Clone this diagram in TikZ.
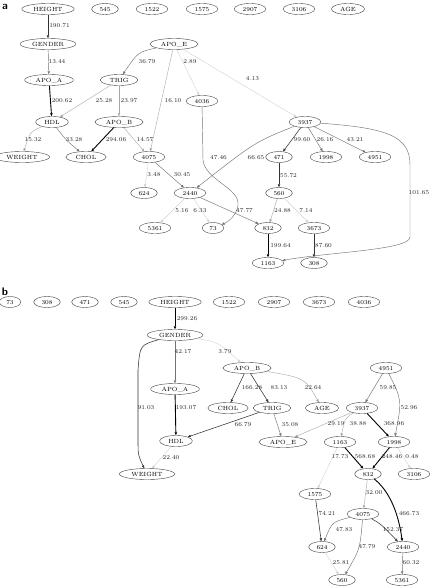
\documentclass[tikz,border=0pt]{standalone}
\usetikzlibrary{shapes.geometric,arrows.meta}
\begin{document}
\begin{tikzpicture}[x=1pt,y=-1pt,
  every node/.style={font=\fontsize{6}{7}\selectfont},
  nd/.style={ellipse,draw=black!75,line width=0.4pt,inner xsep=3.9pt,inner ysep=1.9pt,text height=4pt,text depth=0pt},
  lb/.style={inner sep=0pt,text=black!85},
  arr/.style={-{Triangle[length=3pt,width=2.4pt]}},
  e0/.style={arr,draw=black!18,line width=0.4pt},
  e1/.style={arr,draw=black!35,line width=0.4pt},
  e2/.style={arr,draw=black!55,line width=0.45pt},
  e3/.style={arr,draw=black!80,line width=0.55pt},
  e4/.style={arr,draw=black,line width=0.9pt},
  pl/.style={font=\sffamily\bfseries\fontsize{11}{12}\selectfont,inner sep=0pt}]
\useasboundingbox (0,0) rectangle (429,587);
% ---------------- panel a ----------------
\node[pl] (pa) at (5,7) {a};
\node[nd] (aHEIGHT) at (48,9) {HEIGHT};
\node[nd] (a545) at (105,9) {545};
\node[nd] (a1522) at (152,9) {1522};
\node[nd] (a1575) at (202,9) {1575};
\node[nd] (a2907) at (250,9) {2907};
\node[nd] (a3106) at (299,9) {3106};
\node[nd] (aAGE) at (348,9) {AGE};
\node[nd] (aGENDER) at (48,44) {GENDER};
\node[nd] (aAPOE) at (174,44) {APO\_E};
\node[nd] (aAPOA) at (49,80) {APO\_A};
\node[nd] (aTRIG) at (119,80) {TRIG};
\node[nd] (a4036) at (202,101) {4036};
\node[nd] (aHDL) at (52,122) {HDL};
\node[nd] (aAPOB) at (119,122) {APO\_B};
\node[nd] (a3937) at (305,122) {3937};
\node[nd] (aWEIGHT) at (22,157) {WEIGHT};
\node[nd] (aCHOL) at (86,157) {CHOL};
\node[nd] (a4075) at (149,157) {4075};
\node[nd] (a471) at (279,157) {471};
\node[nd] (a1998) at (326,157) {1998};
\node[nd] (a4951) at (375,157) {4951};
\node[nd] (a624) at (144,193) {624};
\node[nd] (a2440) at (190,193) {2440};
\node[nd] (a560) at (279,193) {560};
\node[nd] (a5361) at (155,228) {5361};
\node[nd] (a73) at (213,228) {73};
\node[nd] (a832) at (268,228) {832};
\node[nd] (a3673) at (314,228) {3673};
\node[nd] (a1163) at (268,263) {1163};
\node[nd] (a308) at (314,263) {308};
% edges a
\draw[e3] (aHEIGHT) -- (aGENDER);
\draw[e2] (aGENDER) -- (aAPOA);
\draw[e2] (aAPOE) .. controls (138,52) .. (aTRIG);
\draw[e0] (aAPOE) -- (a4036);
\draw[e0] (aAPOE) -- (a3937);
\draw[e1] (aAPOE) -- (a4075);
\draw[e4] (aAPOA) -- (aHDL);
\draw[e1] (aTRIG) -- (aHDL);
\draw[e1] (aTRIG) -- (aAPOB);
\draw[e1] (aHDL) .. controls (30,132) .. (aWEIGHT);
\draw[e2] (aHDL) .. controls (66,140) .. (aCHOL);
\draw[e4] (aAPOB) -- (aCHOL);
\draw[e1] (aAPOB) -- (a4075);
\draw[e2] (a4036) -- (203,160) .. controls (205,180) and (240,188) .. (238,205) .. controls (237,215) and (228,222) .. (a73);
\draw[e2] (a3937) .. controls (255,142) .. (a2440);
\draw[e3] (a3937) -- (a471);
\draw[e2] (a3937) -- (a1998);
\draw[e2] (a3937) -- (a4951);
\draw[e2] (a3937) .. controls (385,128) and (410,135) .. (410,165) -- (410,237) .. controls (410,250) and (330,252) .. (a1163);
\draw[e0] (a4075) -- (a624);
\draw[e2] (a4075) -- (a2440);
\draw[e3] (a471) -- (a560);
\draw[e0] (a2440) -- (a5361);
\draw[e0] (a2440) -- (a73);
\draw[e2] (a2440) -- (a832);
\draw[e1] (a560) -- (a832);
\draw[e0] (a560) -- (a3673);
\draw[e4] (a832) -- (a1163);
\draw[e3] (a3673) -- (a308);
% labels a
\node[lb] (la1) at (59.5,26) {190.71};
\node[lb] (la2) at (57,62) {13.44};
\node[lb] (la3) at (147,62) {36.79};
\node[lb] (la4) at (190,62) {2.89};
\node[lb] (la5) at (252.5,79) {4.13};
\node[lb] (la6) at (62,101) {200.62};
\node[lb] (la7) at (104,101) {25.28};
\node[lb] (la8) at (129,101) {23.97};
\node[lb] (la9) at (173,101) {16.10};
\node[lb] (la10) at (33,140) {15.32};
\node[lb] (la11) at (74,140) {33.28};
\node[lb] (la12) at (116,140) {294.06};
\node[lb] (la13) at (145,140) {14.57};
\node[lb] (la14) at (302,140) {99.60};
\node[lb] (la15) at (325,140) {26.16};
\node[lb] (la16) at (355,140) {43.21};
\node[lb] (la17) at (218.5,158) {47.46};
\node[lb] (la18) at (256,158) {66.65};
\node[lb] (la19) at (154,175) {3.48};
\node[lb] (la20) at (182,175) {30.45};
\node[lb] (la21) at (288.5,176) {55.72};
\node[lb] (la22) at (419,193) {101.65};
\node[lb] (la23) at (182,211) {5.16};
\node[lb] (la24) at (200,211) {6.33};
\node[lb] (la25) at (244.5,211) {47.77};
\node[lb] (la26) at (282.5,211) {24.88};
\node[lb] (la27) at (306,211) {7.14};
\node[lb] (la28) at (280.5,246) {199.64};
\node[lb] (la29) at (323.5,246) {87.60};
% ---------------- panel b ----------------
\node[pl] (pb) at (5,292) {b};
\node[nd] (b73) at (10,302) {73};
\node[nd] (b308) at (47,302) {308};
\node[nd] (b471) at (85,302) {471};
\node[nd] (b545) at (124,302) {545};
\node[nd] (bHEIGHT) at (175,302) {HEIGHT};
\node[nd] (b1522) at (229,302) {1522};
\node[nd] (b2907) at (274,302) {2907};
\node[nd] (b3673) at (319,302) {3673};
\node[nd] (b4036) at (364,302) {4036};
\node[nd] (bGENDER) at (175,335) {GENDER};
\node[nd] (bAPOA) at (175,389) {APO\_A};
\node[nd] (bAPOB) at (247,368) {APO\_B};
\node[nd] (b4951) at (386,368) {4951};
\node[nd] (bCHOL) at (228,408) {CHOL};
\node[nd] (bTRIG) at (272,408) {TRIG};
\node[nd] (bAGE) at (322,408) {AGE};
\node[nd] (b3937) at (362,408) {3937};
\node[nd] (bHDL) at (176,441) {HDL};
\node[nd] (bAPOE) at (283,442) {APO\_E};
\node[nd] (b1163) at (340,442) {1163};
\node[nd] (b1998) at (394,442) {1998};
\node[nd] (bWEIGHT) at (147,474) {WEIGHT};
\node[nd] (b832) at (368,474) {832};
\node[nd] (b3106) at (414,474) {3106};
\node[nd] (b1575) at (315,494) {1575};
\node[nd] (b4075) at (363,514) {4075};
\node[nd] (b624) at (322,547) {624};
\node[nd] (b2440) at (403,547) {2440};
\node[nd] (b560) at (342,580) {560};
\node[nd] (b5361) at (402,580) {5361};
% edges b
\draw[e4] (bHEIGHT) -- (bGENDER);
\draw[e2] (bGENDER) -- (bAPOA);
\draw[e0] (bGENDER) .. controls (218,342) .. (bAPOB);
\draw[e3] (bGENDER) .. controls (140,345) .. (138,370) -- (138,440) .. controls (138,455) .. (bWEIGHT);
\draw[e4] (bAPOA) -- (bHDL);
\draw[e3] (bAPOB) -- (bCHOL);
\draw[e3] (bAPOB) -- (bTRIG);
\draw[e1] (bAPOB) .. controls (305,378) .. (bAGE);
\draw[e3] (bTRIG) -- (bHDL);
\draw[e2] (bTRIG) -- (bAPOE);
\draw[e0] (bHDL) -- (bWEIGHT);
\draw[e2] (b4951) -- (b3937);
\draw[e2] (b4951) .. controls (402,400) .. (b1998);
\draw[e1] (b3937) -- (bAPOE);
\draw[e1] (b3937) .. controls (345,418) .. (b1163);
\draw[e4] (b3937) -- (b1998);
\draw[e4] (b1163) -- (b832);
\draw[e0] (b1163) -- (b1575);
\draw[e4] (b1998) -- (b832);
\draw[e0] (b1998) -- (b3106);
\draw[e1] (b832) -- (b4075);
\draw[e4] (b832) .. controls (388,490) and (398,510) .. (b2440);
\draw[e3] (b1575) -- (b624);
\draw[e2] (b4075) .. controls (332,522) .. (b624);
\draw[e3] (b4075) .. controls (381,524) .. (b2440);
\draw[e2] (b4075) .. controls (360,549) .. (b560);
\draw[e0] (b624) -- (b560);
\draw[e2] (b2440) -- (b5361);
% labels b
\node[lb] (lb1) at (187,319) {299.26};
\node[lb] (lb2) at (183,352) {42.17};
\node[lb] (lb3) at (225,352) {3.79};
\node[lb] (lb4) at (146,408) {91.03};
\node[lb] (lb5) at (186,408) {193.07};
\node[lb] (lb6) at (252,388) {166.28};
\node[lb] (lb7) at (279,388) {83.13};
\node[lb] (lb8) at (313,388) {22.64};
\node[lb] (lb9) at (388,388) {59.85};
\node[lb] (lb10) at (409,408) {52.96};
\node[lb] (lb11) at (243,425) {66.79};
\node[lb] (lb12) at (290,425) {35.08};
\node[lb] (lb13) at (336,424) {29.19};
\node[lb] (lb14) at (358,424) {38.88};
\node[lb] (lb15) at (394,424) {368.96};
\node[lb] (lb16) at (171,458) {22.40};
\node[lb] (lb17) at (340,457) {17.73};
\node[lb] (lb18) at (365,457) {568.68};
\node[lb] (lb19) at (392,457) {248.46};
\node[lb] (lb20) at (412,457) {0.48};
\node[lb] (lb21) at (374,493) {32.00};
\node[lb] (lb22) at (409,514) {466.73};
\node[lb] (lb23) at (327,514) {74.21};
\node[lb] (lb24) at (344,530) {47.83};
\node[lb] (lb25) at (393,530) {152.37};
\node[lb] (lb26) at (367,547) {47.79};
\node[lb] (lb27) at (341,563) {25.81};
\node[lb] (lb28) at (411,563) {60.32};
\end{tikzpicture}
\end{document}
